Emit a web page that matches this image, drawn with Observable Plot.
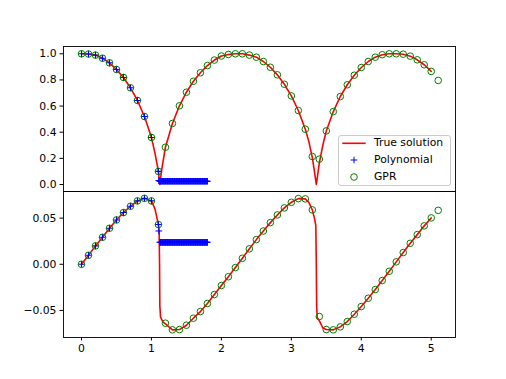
<!DOCTYPE html>
<html><head><meta charset="utf-8">
<script src="https://cdn.jsdelivr.net/npm/d3@7"></script>
<script src="https://cdn.jsdelivr.net/npm/@observablehq/plot@0.6"></script>
<style>
html,body{margin:0;padding:0;background:#fff;}
#wrap{position:relative;width:506px;height:379px;overflow:hidden;font-family:"DejaVu Sans",sans-serif;background:#fff;}
#wrap svg{position:absolute;left:0;overflow:visible;}
.legend{position:absolute;left:338px;top:135px;width:111px;height:49px;border:1px solid #cccccc;border-radius:3px;background:rgba(255,255,255,0.8);font-size:10.8px;color:#000;}
.legend .lab{position:absolute;left:35px;line-height:12px;white-space:nowrap;}
.legend svg{position:absolute;left:0;top:0;}
</style></head><body><div id="wrap"></div>
<script>
// ---- data ----
const gprX = [0,0.1,0.2,0.3,0.4,0.5,0.6,0.7,0.8,0.9,1.0,1.1,1.2,1.3,1.4,1.5,1.6,1.7,1.8,1.9,2.0,2.1,2.2,2.3,2.4,2.5,2.6,2.7,2.8,2.9,3.0,3.1,3.2,3.3,3.4,3.5,3.6,3.7,3.8,3.9,4.0,4.1,4.2,4.3,4.4,4.5,4.6,4.7,4.8,4.9,5.0,5.1];
const gprTop = [1.0,0.998,0.99,0.966,0.931,0.88,0.819,0.74,0.643,0.52,0.36,0.10,0.285,0.467,0.602,0.706,0.79,0.855,0.91,0.952,0.983,0.995,1.0,1.0,0.99,0.974,0.941,0.897,0.839,0.767,0.678,0.566,0.423,0.214,0.194,0.41,0.558,0.673,0.763,0.836,0.895,0.941,0.974,0.993,1.0,1.0,0.997,0.982,0.954,0.916,0.865,0.796];
const gprBottom = [0,0.0097,0.0199,0.0292,0.039,0.048,0.056,0.0628,0.0686,0.0714,0.0686,0.043,-0.0638,-0.071,-0.0707,-0.066,-0.0584,-0.0512,-0.0425,-0.0328,-0.023,-0.0135,-0.0036,0.0065,0.0167,0.0267,0.036,0.0451,0.0534,0.061,0.0671,0.0711,0.0708,0.0589,-0.0566,-0.0707,-0.071,-0.0678,-0.062,-0.0541,-0.0458,-0.0368,-0.0274,-0.0176,-0.0076,0.0026,0.0127,0.0227,0.0321,0.0416,0.0502,0.0584];

const trueTopX = [0,0.1,0.2,0.3,0.4,0.5,0.6,0.7,0.8,0.9,1.0,1.05,1.1,1.118,1.15,1.2,1.3,1.4,1.5,1.6,1.7,1.8,1.9,2.0,2.1,2.2,2.3,2.4,2.5,2.6,2.7,2.8,2.9,3.0,3.1,3.2,3.25,3.3,3.33,3.357,3.38,3.4,3.45,3.5,3.6,3.7,3.8,3.9,4.0,4.1,4.2,4.3,4.4,4.5,4.6,4.7,4.8,4.9,5.0];
const trueTopY = [1.0,0.998,0.99,0.966,0.931,0.88,0.819,0.74,0.643,0.52,0.36,0.24,0.10,0.0,0.125,0.285,0.467,0.602,0.706,0.79,0.855,0.91,0.952,0.983,0.995,1.0,1.0,0.99,0.974,0.941,0.897,0.839,0.767,0.678,0.566,0.423,0.33,0.205,0.1,0.0,0.085,0.165,0.3,0.41,0.558,0.673,0.763,0.836,0.895,0.941,0.974,0.993,1.0,1.0,0.997,0.982,0.954,0.916,0.865];

const trueBotX = [0,0.1,0.2,0.3,0.4,0.5,0.6,0.7,0.8,0.9,1.0,1.05,1.1,1.11,1.116,1.12,1.13,1.16,1.2,1.3,1.4,1.5,1.6,1.7,1.8,1.9,2.0,2.1,2.2,2.3,2.4,2.5,2.6,2.7,2.8,2.9,3.0,3.1,3.2,3.25,3.3,3.33,3.35,3.357,3.362,3.37,3.4,3.45,3.5,3.6,3.7,3.8,3.9,4.0,4.1,4.2,4.3,4.4,4.5,4.6,4.7,4.8,4.9,5.0];
const trueBotY = [0,0.0097,0.0199,0.0292,0.039,0.048,0.056,0.0628,0.0686,0.0714,0.0686,0.06,0.043,0.036,0.0,-0.045,-0.057,-0.062,-0.0645,-0.071,-0.0707,-0.066,-0.0584,-0.0512,-0.0425,-0.0328,-0.023,-0.0135,-0.0036,0.0065,0.0167,0.0267,0.036,0.0451,0.0534,0.061,0.0671,0.0711,0.0708,0.067,0.0589,0.05,0.042,0.0,-0.045,-0.058,-0.061,-0.069,-0.0707,-0.071,-0.0678,-0.062,-0.0541,-0.0458,-0.0368,-0.0274,-0.0176,-0.0076,0.0026,0.0127,0.0227,0.0321,0.0416,0.0502];

const polyX = [0,0.1,0.2,0.3,0.4,0.5,0.6,0.7,0.8,0.9,1.0,1.1,1.105];
const polyTop = [1.0,0.998,0.99,0.966,0.931,0.88,0.819,0.74,0.643,0.52,0.36,0.10,0.03];
const polyBottom = [0,0.0097,0.0199,0.0292,0.039,0.048,0.056,0.0628,0.0686,0.0714,0.0686,0.043,0.036];
const polyFlatX = [1.12,1.13,1.14,1.15,1.16,1.17,1.18,1.19,1.20,1.21,1.22,1.23,1.24,1.25,1.26,1.27,1.28,1.29,1.30,1.31,1.32,1.33,1.34,1.35,1.36,1.37,1.38,1.39,1.40,1.41,1.42,1.43,1.44,1.45,1.46,1.47,1.48,1.49,1.50,1.51,1.52,1.53,1.54,1.55,1.56,1.57,1.58,1.59,1.60,1.61,1.62,1.63,1.64,1.65,1.66,1.67,1.68,1.69,1.70,1.71,1.72,1.73,1.74,1.75,1.76,1.77,1.78,1.79,1.80];
const polyFlatTop = 0.025;
const polyFlatBottom = 0.0238;

const xTicks = [0,1,2,3,4,5];
const topTicks = [0,0.2,0.4,0.6,0.8,1.0];
const bottomTicks = [-0.05,0,0.05];
const legendLabels = ["True solution","Polynomial","GPR"];

// ---- drawing ----
const common = {
  width: 506, marginLeft: 63, marginRight: 51,
  style: {fontFamily: "DejaVu Sans", fontSize: "10.8px", background: "transparent", color: "black", overflow: "visible"}
};
const xDomain = [-0.2574, 5.347];
const plusR = 2.3;

function marksFor(tx, ty, px, py, flatY, gy) {
  return [
    Plot.line(tx, {x: tx, y: ty, stroke: "red", strokeWidth: 1.6}),
    Plot.dot(px, {x: px, y: py, symbol: "plus", r: plusR, stroke: "blue", strokeWidth: 1.1}),
    Plot.dot(polyFlatX, {x: polyFlatX, y: () => flatY, symbol: "plus", r: plusR, stroke: "blue", strokeWidth: 1.1}),
    Plot.dot(gprX, {x: gprX, y: gy, r: 3.3, stroke: "green", fill: "none", strokeWidth: 1}),
    Plot.frame({stroke: "black", strokeWidth: 0.9})
  ];
}

const topPlot = Plot.plot({
  ...common, height: 191, marginTop: 46, marginBottom: 0,
  x: {domain: xDomain, axis: null},
  y: {domain: [-0.0536, 1.0558]},
  marks: [
    Plot.axisY({ticks: topTicks, tickFormat: d3.format(".1f"), tickSize: 3.5, tickPadding: 3.5, label: null}),
    ...marksFor(trueTopX, trueTopY, polyX, polyTop, polyFlatTop, gprTop)
  ]
});
const bottomPlot = Plot.plot({
  ...common, height: 188, marginTop: 0, marginBottom: 42,
  x: {domain: xDomain},
  y: {domain: [-0.0793, 0.0788]},
  marks: [
    Plot.axisY({ticks: bottomTicks, tickFormat: d3.format(".2f"), tickSize: 3.5, tickPadding: 3.5, label: null}),
    Plot.axisX({ticks: xTicks, tickFormat: d3.format("d"), tickSize: 3.5, tickPadding: 3.5, label: null}),
    ...marksFor(trueBotX, trueBotY, polyX, polyBottom, polyFlatBottom, gprBottom)
  ]
});

const wrap = document.getElementById("wrap");
topPlot.style.top = "0px";
bottomPlot.style.top = "191px";
wrap.appendChild(topPlot);
wrap.appendChild(bottomPlot);

// legend
const leg = document.createElement("div");
leg.className = "legend";
const ns = "http://www.w3.org/2000/svg";
const sw = document.createElementNS(ns, "svg");
sw.setAttribute("width", 34); sw.setAttribute("height", 49);
const rowY = [7.3, 24, 41];
const ln = document.createElementNS(ns, "line");
ln.setAttribute("x1", 3.3); ln.setAttribute("x2", 26.7); ln.setAttribute("y1", rowY[0]); ln.setAttribute("y2", rowY[0]);
ln.setAttribute("stroke", "red"); ln.setAttribute("stroke-width", 1.6);
sw.appendChild(ln);
const pl = document.createElementNS(ns, "path");
pl.setAttribute("d", `M${15-3.3},${rowY[1]}h6.6M15,${rowY[1]-3.3}v6.6`);
pl.setAttribute("stroke", "blue"); pl.setAttribute("fill", "none");
sw.appendChild(pl);
const ci = document.createElementNS(ns, "circle");
ci.setAttribute("cx", 15); ci.setAttribute("cy", rowY[2]); ci.setAttribute("r", 3.3);
ci.setAttribute("stroke", "green"); ci.setAttribute("fill", "none");
sw.appendChild(ci);
leg.appendChild(sw);
legendLabels.forEach((t, i) => {
  const s = document.createElement("span");
  s.className = "lab";
  s.style.top = (rowY[i] - 6.5) + "px";
  s.textContent = t;
  leg.appendChild(s);
});
wrap.appendChild(leg);
</script></body></html>
